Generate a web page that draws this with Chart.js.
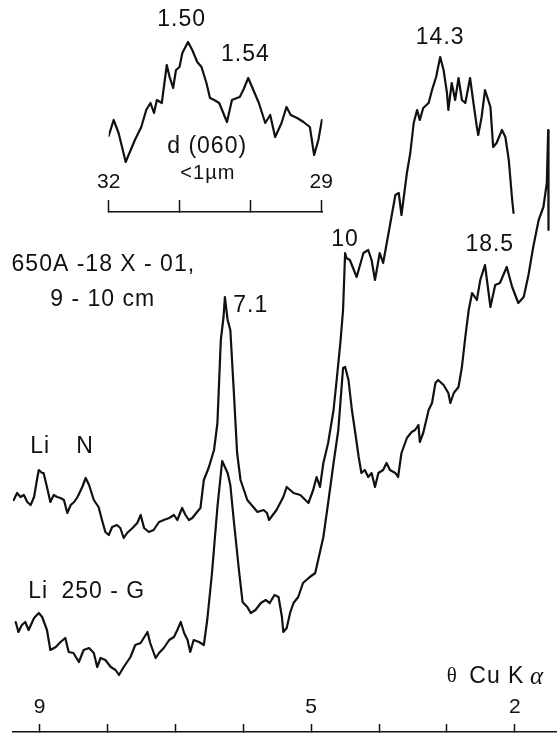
<!DOCTYPE html>
<html><head><meta charset="utf-8">
<script src="https://cdn.jsdelivr.net/npm/chart.js@4.4.1/dist/chart.umd.min.js"></script>
<style>
html,body{margin:0;padding:0;background:#fff;}
#wrap{position:relative;width:557px;height:735px;overflow:hidden;}
#main{position:absolute;left:0;top:0;}
#inset{position:absolute;left:80px;top:0;}
</style></head><body>
<div id="wrap"><canvas id="main" width="557" height="735"></canvas><canvas id="inset" width="270" height="215"></canvas></div>
<script>
// ---- main diagram: theta (deg, Cu K alpha) vs intensity (arbitrary units) ----
const mainTicks = [9, 8, 7, 6, 5, 4, 3, 2];
const mainTickLabels = ['9', '', '', '', '5', '', '', '2'];

// 650A-18X-01, 9-10 cm (upper trace)
const sampleTheta = [9.38,9.33,9.28,9.23,9.18,9.13,9.08,9.03,9.01,8.96,8.94,8.89,8.84,8.79,8.74,8.69,8.64,8.59,8.54,8.49,8.44,8.37,8.32,8.27,8.20,8.13,8.08,8.03,7.98,7.93,7.86,7.81,7.76,7.71,7.63,7.56,7.51,7.46,7.39,7.32,7.24,7.17,7.09,7.02,6.97,6.90,6.85,6.80,6.75,6.68,6.63,6.58,6.51,6.43,6.38,6.33,6.29,6.27,6.23,6.19,6.14,6.09,6.04,5.94,5.79,5.70,5.65,5.62,5.51,5.41,5.36,5.26,5.16,5.04,4.97,4.92,4.87,4.82,4.75,4.67,4.62,4.57,4.53,4.50,4.48,4.43,4.33,4.23,4.16,4.11,4.06,3.99,3.94,3.86,3.76,3.71,3.67,3.59,3.54,3.49,3.44,3.40,3.35,3.27,3.22,3.16,3.10,3.05,3.00,2.98,2.93,2.88,2.83,2.78,2.73,2.66,2.61,2.56,2.54,2.49,2.44,2.36,2.32,2.27,2.19,2.14,2.09,2.04,2.02];
const sampleInt = [232,239,235,237,230,227,235,255,262,259,259,245,230,237,235,234,232,219,227,230,235,245,254,247,232,225,212,200,197,205,207,204,194,199,204,209,217,204,200,202,210,212,214,217,212,224,217,212,214,220,224,252,264,282,309,392,415,435,412,402,342,279,252,232,220,222,219,212,222,235,245,239,237,229,242,255,245,269,289,322,355,389,422,479,474,472,455,479,482,472,452,479,469,499,537,539,517,559,579,609,622,612,624,629,642,655,675,662,639,622,649,632,654,632,629,654,629,605,597,615,642,625,585,589,602,595,572,532,519];

// Li 250-G (lower trace)
const refTheta = [9.35,9.31,9.26,9.21,9.16,9.08,9.01,8.96,8.89,8.84,8.76,8.69,8.62,8.57,8.50,8.42,8.35,8.27,8.20,8.15,8.10,8.03,7.95,7.88,7.83,7.76,7.66,7.59,7.51,7.41,7.37,7.29,7.24,7.17,7.09,7.02,6.97,6.92,6.87,6.82,6.78,6.73,6.65,6.58,6.53,6.46,6.38,6.31,6.23,6.19,6.14,6.06,6.01,5.94,5.89,5.82,5.74,5.67,5.61,5.54,5.48,5.43,5.41,5.36,5.31,5.26,5.19,5.12,5.02,4.94,4.89,4.82,4.75,4.67,4.60,4.53,4.50,4.45,4.40,4.35,4.30,4.26,4.21,4.16,4.11,4.06,4.01,3.94,3.89,3.84,3.76,3.72,3.67,3.59,3.52,3.47,3.42,3.40,3.35,3.27,3.22,3.17,3.13,3.05,2.98,2.95,2.90,2.83,2.78,2.73,2.68,2.63,2.56,2.51,2.44,2.36,2.29,2.22,2.12,2.04,1.95,1.87,1.80,1.73,1.65,1.58,1.53,1.51,1.505];
const refInt = [110,100,107,110,102,114,119,115,102,82,85,90,94,80,79,70,82,84,79,65,74,72,65,62,57,65,75,87,89,100,89,74,79,84,92,95,102,110,99,92,80,92,90,87,112,159,225,271,259,247,212,160,130,125,119,122,129,132,129,137,135,115,100,104,119,129,135,149,155,159,174,195,229,269,302,364,365,352,322,299,275,259,262,255,259,245,259,262,269,262,259,255,279,294,300,302,307,290,299,322,329,349,352,347,339,329,339,345,365,395,422,439,432,452,467,425,447,449,465,445,429,435,457,485,512,525,549,602,502];

const mainNotes = ['650A -18 X - 01,', '9 - 10 cm', '7.1', '10', '14.3', '18.5', 'Li', 'N', 'Li', '250 - G', 'θ', 'Cu K', 'α'];
const mainNoteTheta = [8.06, 8.07, 5.89, 4.50, 3.10, 2.37, 8.99, 8.33, 9.02, 8.06, 2.93, 2.265, 1.68];
const mainNoteInt = [467, 432, 426, 492, 694, 487, 285, 285, 140, 140, 56, 55, 55];
const mainNoteSize = [23, 23, 23, 23, 23, 23, 23, 23, 23, 23, 21, 23, 25];
const mainNoteStyle = ['s', 's', 's', 's', 's', 's', 's', 's', 's', 's', 'r', 's', 'i'];

// ---- inset: d(060), <1 µm ----
const insetTicks = [32, 31, 30, 29];
const insetTickLabels = ['32', '', '', '29'];
const insetTheta = [32.00,31.93,31.86,31.76,31.63,31.54,31.47,31.41,31.36,31.32,31.25,31.18,31.14,31.09,31.05,31.00,30.96,30.88,30.82,30.75,30.69,30.62,30.57,30.51,30.44,30.33,30.26,30.19,30.15,30.10,30.03,29.97,29.88,29.79,29.72,29.65,29.56,29.49,29.43,29.34,29.25,29.16,29.10,29.04,28.99];
const insetInt = [76,92,79,50,72,85,102,109,99,112,109,147,135,124,142,145,159,170,162,150,145,129,114,112,109,90,112,114,115,122,134,124,109,89,97,75,89,105,97,94,90,85,57,72,92];
const insetNotes = ['1.50', '1.54', 'd (060)', '<1µm'];
const insetNoteTheta = [30.97, 30.07, 30.61, 30.60];
const insetNoteInt = [192, 157, 65, 39];
const insetNoteSize = [23, 23, 23, 20];
const insetNoteStyle = ['s', 's', 's', 's'];

const FONT = '"Liberation Sans", Arial, Helvetica, sans-serif';
const SERIF = '"Liberation Serif", "DejaVu Serif", serif';
const INK = '#111111';

const notesPlugin = {
  id: 'notes',
  afterDraw(chart, args, o) {
    const ctx = chart.ctx, xs = chart.scales.x, ys = chart.scales.y;
    ctx.save();
    ctx.fillStyle = INK;
    ctx.textAlign = 'center';
    ctx.textBaseline = 'middle';
    o.texts.forEach((t, i) => {
      const st = o.styles[i];
      if (st === 'i') { ctx.font = 'italic ' + o.sizes[i] + 'px ' + SERIF; ctx.letterSpacing = '0px'; }
      else if (st === 'r') { ctx.font = o.sizes[i] + 'px ' + SERIF; ctx.letterSpacing = '0px'; }
      else { ctx.font = o.sizes[i] + 'px ' + FONT; ctx.letterSpacing = '1px'; }
      ctx.fillText(t, xs.getPixelForValue(o.xs[i]), ys.getPixelForValue(o.ys[i]));
    });
    ctx.restore();
  }
};

function lineSet(xs, ys) {
  return {
    data: xs.map((t, i) => ({x: t, y: ys[i]})),
    showLine: true, borderColor: INK, borderWidth: 2.2, pointRadius: 0,
    tension: 0, fill: false, borderJoinStyle: 'round', borderCapStyle: 'round'
  };
}

function xAxis(min, max, ticks, labels, tickLen, pad) {
  return {
    type: 'linear', reverse: true, min: min, max: max, position: 'bottom',
    afterBuildTicks: s => { s.ticks = ticks.map(v => ({value: v})); },
    afterFit: s => { s.height = 3; },
    grid: {drawOnChartArea: false, drawTicks: true, tickLength: tickLen, color: INK, tickColor: INK, tickWidth: 1.5},
    border: {display: true, color: INK, width: 1.5},
    ticks: {
      mirror: true, padding: pad, color: INK, autoSkip: false, maxRotation: 0, minRotation: 0,
      font: {size: 21, family: FONT},
      callback: v => { const i = ticks.indexOf(v); return i >= 0 ? labels[i] : ''; }
    }
  };
}

Chart.defaults.font.family = FONT;

new Chart(document.getElementById('main'), {
  type: 'scatter',
  data: {datasets: [lineSet(sampleTheta, sampleInt), lineSet(refTheta, refInt)]},
  options: {
    responsive: false, animation: false, devicePixelRatio: 1,
    layout: {padding: {left: 13, right: 0, top: 0, bottom: 0}},
    plugins: {
      legend: {display: false}, tooltip: {enabled: false},
      notes: {texts: mainNotes, xs: mainNoteTheta, ys: mainNoteInt, sizes: mainNoteSize, styles: mainNoteStyle}
    },
    scales: {
      x: xAxis(1.38, 9.39, mainTicks, mainTickLabels, -8, 12),
      y: {type: 'linear', display: false, min: 0, max: 732}
    }
  },
  plugins: [notesPlugin]
});

new Chart(document.getElementById('inset'), {
  type: 'scatter',
  data: {datasets: [lineSet(insetTheta, insetInt)]},
  options: {
    responsive: false, animation: false, devicePixelRatio: 1,
    layout: {padding: {left: 23, right: 23.5, top: 0, bottom: 0}},
    plugins: {
      legend: {display: false}, tooltip: {enabled: false},
      notes: {texts: insetNotes, xs: insetNoteTheta, ys: insetNoteInt, sizes: insetNoteSize, styles: insetNoteStyle}
    },
    scales: {
      x: xAxis(28.98, 32, insetTicks, insetTickLabels, -12, 17),
      y: {type: 'linear', display: false, min: 0, max: 212}
    }
  },
  plugins: [notesPlugin]
});
</script>
</body></html>
